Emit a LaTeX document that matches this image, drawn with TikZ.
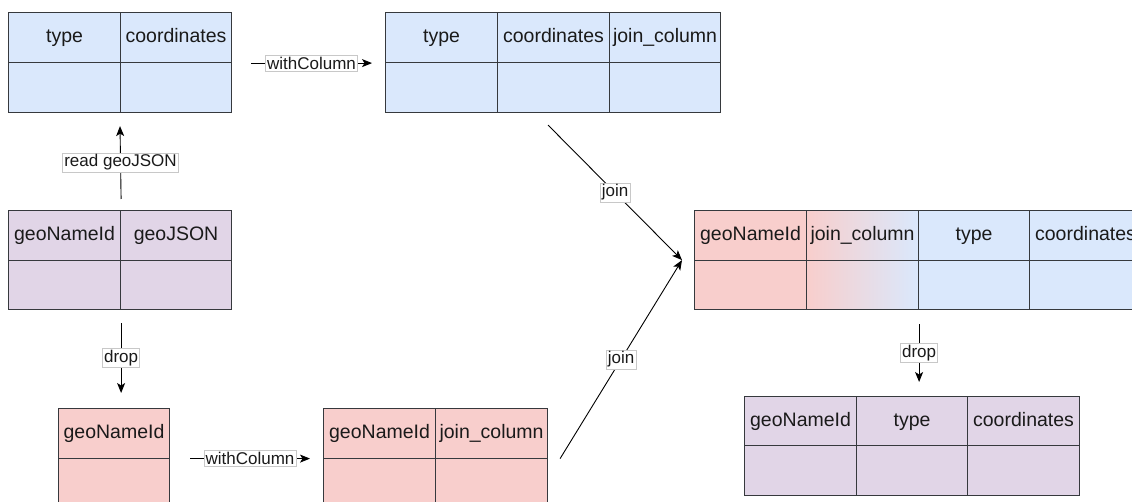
\documentclass[tikz,border=0pt]{standalone}
\usepackage{fontspec}
\setmainfont{Liberation Sans}
\usetikzlibrary{arrows.meta}

\definecolor{bluefill}{HTML}{DAE8FC}
\definecolor{pinkfill}{HTML}{F8CECC}
\definecolor{purplefill}{HTML}{E1D5E7}
\definecolor{edge}{HTML}{36393D}
\definecolor{ink}{HTML}{1A1A1A}
\definecolor{lblframe}{HTML}{C8C8C8}

\tikzset{
  cell/.style={draw=edge, line width=1.1pt, inner sep=0pt, anchor=north west,
    minimum height=#1, text=ink, text height=14pt, text depth=4pt,
    font=\fontsize{19.5}{23}\selectfont},
  cell/.default=50pt,
  blue/.style={fill=bluefill},
  pink/.style={fill=pinkfill},
  purple/.style={fill=purplefill},
  mixed/.style={left color=pinkfill, right color=bluefill},
  arr/.style={-{Stealth[length=10pt,width=8pt,inset=2.5pt]}, line width=0.9pt, draw=black},
  lbl/.style={draw=lblframe, fill=white, line width=0.6pt, inner sep=1.6pt,
    text=ink, font=\fontsize{17}{19}\selectfont},
}

\begin{document}
\begin{tikzpicture}[x=1pt, y=-1pt]
\useasboundingbox (0,0) rectangle (1132,502);
\clip (0,0) rectangle (1132,502);

% parsed geoJSON: type | coordinates
\node[cell, blue, minimum width=112pt] (t1a) at (8,12) {type};
\node[cell, blue, minimum width=111pt] (t1b) at (120,12) {coordinates};
\node[cell, blue, minimum width=112pt] (t1c) at (8,62) {};
\node[cell, blue, minimum width=111pt] (t1d) at (120,62) {};

% with join column added
\node[cell, blue, minimum width=112pt] (t2a) at (385,12) {type};
\node[cell, blue, minimum width=112pt] (t2b) at (497,12) {coordinates};
\node[cell, blue, minimum width=111pt] (t2c) at (609,12) {join\_column};
\node[cell, blue, minimum width=112pt] (t2d) at (385,62) {};
\node[cell, blue, minimum width=112pt] (t2e) at (497,62) {};
\node[cell, blue, minimum width=111pt] (t2f) at (609,62) {};

% source: geoNameId | geoJSON
\node[cell=50pt, purple, minimum width=112pt] (t3a) at (8,210) {geoNameId};
\node[cell=50pt, purple, minimum width=111pt] (t3b) at (120,210) {geoJSON};
\node[cell=49pt, purple, minimum width=112pt] (t3c) at (8,260) {};
\node[cell=49pt, purple, minimum width=111pt] (t3d) at (120,260) {};

% geoNameId only
\node[cell=49.5pt, pink, minimum width=111pt] (t4a) at (58,408) {geoNameId};
\node[cell=50pt, pink, minimum width=111pt] (t4b) at (58,457.5) {};

% geoNameId | join_column
\node[cell=49.5pt, pink, minimum width=112pt] (t5a) at (323,408) {geoNameId};
\node[cell=49.5pt, pink, minimum width=112pt] (t5b) at (435,408) {join\_column};
\node[cell=50pt, pink, minimum width=112pt] (t5c) at (323,457.5) {};
\node[cell=50pt, pink, minimum width=112pt] (t5d) at (435,457.5) {};

% joined result
\node[cell=50pt, pink, minimum width=112pt] (t6a) at (694,210) {geoNameId};
\node[cell=50pt, mixed, minimum width=112pt] (t6b) at (806,210) {join\_column};
\node[cell=50pt, blue, minimum width=111pt] (t6c) at (918,210) {type};
\node[cell=50pt, blue, minimum width=112pt] (t6d) at (1029,210) {coordinates};
\node[cell=49pt, pink, minimum width=112pt] (t6e) at (694,260) {};
\node[cell=49pt, mixed, minimum width=112pt] (t6f) at (806,260) {};
\node[cell=49pt, blue, minimum width=111pt] (t6g) at (918,260) {};
\node[cell=49pt, blue, minimum width=112pt] (t6h) at (1029,260) {};

% final: geoNameId | type | coordinates
\node[cell=49pt, purple, minimum width=112pt] (t7a) at (744,396) {geoNameId};
\node[cell=49pt, purple, minimum width=111pt] (t7b) at (856,396) {type};
\node[cell=49pt, purple, minimum width=112pt] (t7c) at (967,396) {coordinates};
\node[cell=50pt, purple, minimum width=112pt] (t7d) at (744,445) {};
\node[cell=50pt, purple, minimum width=111pt] (t7e) at (856,445) {};
\node[cell=50pt, purple, minimum width=112pt] (t7f) at (967,445) {};

% transformations
\draw[arr] ([yshift=11pt]t3a.north east) -- node[lbl]{read geoJSON} ([yshift=-13pt]t1d.south west);
\draw[arr] ([xshift=19pt]t1b.south east) -- node[lbl]{withColumn} ([xshift=-13pt]t2a.south west);
\draw[arr] ([yshift=-13pt]t3c.south east) -- node[lbl]{drop} ([yshift=15pt]t3c.south east |- t4a.north);
\draw[arr] ([xshift=20pt]t4a.south east) -- node[lbl]{withColumn} ([xshift=-13pt]t5a.south west);

\coordinate (joinpt) at ([xshift=-12pt,yshift=1pt]t6a.south west);
\draw[arr] ([xshift=-5.5pt,yshift=-12pt]t2e.south) -- node[lbl]{join} (joinpt);
\draw[arr] ([xshift=12pt]t5b.south east) -- node[lbl]{join} (joinpt);

\draw[arr] ([yshift=-14pt]t6f.south east) -- node[lbl]{drop} ([yshift=14pt]t6f.south east |- t7b.north);
\end{tikzpicture}
\end{document}
